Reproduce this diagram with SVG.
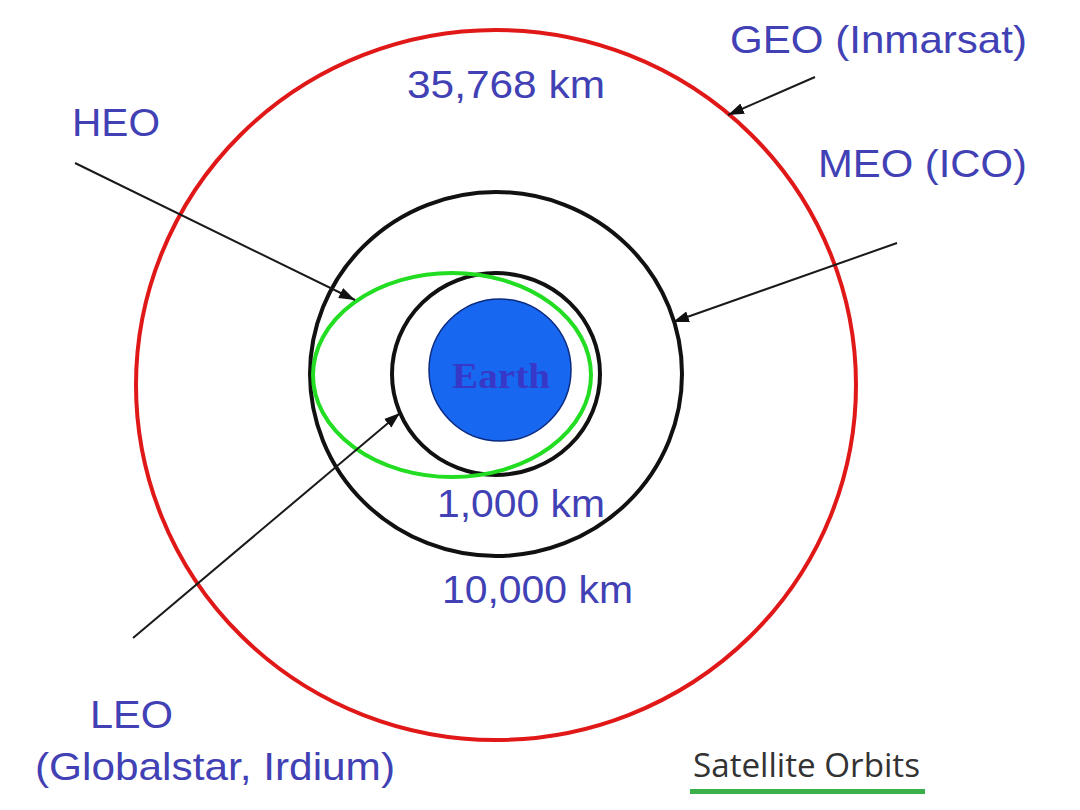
<svg xmlns="http://www.w3.org/2000/svg" width="1080" height="810" viewBox="0 0 1080 810">
<style>
.lbl{font-family:"Liberation Sans",Arial,sans-serif;font-size:39px;fill:#4141b5}
.orbit{fill:none;stroke-width:4}
.conn{stroke:#1a1a1a;stroke-width:2;fill:none}
</style>
<defs>
<marker id="ah" viewBox="0 0 10 10" refX="10" refY="5" markerWidth="8" markerHeight="8" markerUnits="userSpaceOnUse" orient="auto">
<path d="M0,0 L10,5 L0,10 z" fill="#111"/>
</marker>
<marker id="ahb" viewBox="0 0 10 10" refX="10" refY="5" markerWidth="16" markerHeight="16" markerUnits="userSpaceOnUse" orient="auto">
<path d="M0,1.5 L10,5 L0,8.5 z" fill="#111"/>
</marker>
</defs>
<rect width="1080" height="810" fill="#fff"/>
<g id="geo"><ellipse class="orbit" cx="496" cy="385" rx="360" ry="355" stroke="#e01818"/></g>
<g id="meo"><ellipse class="orbit" cx="496" cy="374" rx="186" ry="182" stroke="#111"/></g>
<g id="leo"><ellipse class="orbit" cx="496" cy="374" rx="104" ry="101" stroke="#111"/></g>
<g id="heo"><ellipse class="orbit" cx="452" cy="375" rx="139" ry="102" stroke="#22dd22"/></g>
<g id="earth">
<ellipse cx="500" cy="370" rx="71" ry="71" fill="#1767f0" stroke="#0a2a80" stroke-width="1.5"/>
<text x="501" y="388" text-anchor="middle" font-family="Liberation Serif,'Times New Roman',serif" font-weight="bold" font-size="35" fill="#3838c8" textLength="98" lengthAdjust="spacingAndGlyphs">Earth</text>
</g>
<g id="connectors">
<line class="conn" x1="815" y1="77" x2="728" y2="115" marker-end="url(#ahb)"/>
<line class="conn" x1="897" y1="243" x2="673" y2="322" marker-end="url(#ahb)"/>
<line class="conn" x1="75" y1="163" x2="355" y2="300" marker-end="url(#ahb)"/>
<line class="conn" x1="133" y1="638" x2="400" y2="413" marker-end="url(#ahb)"/>
</g>
<g id="labels">
<text class="lbl" x="730" y="53" textLength="297" lengthAdjust="spacingAndGlyphs">GEO (Inmarsat)</text>
<text class="lbl" x="407" y="98" textLength="198" lengthAdjust="spacingAndGlyphs">35,768 km</text>
<text class="lbl" x="72" y="136" textLength="88" lengthAdjust="spacingAndGlyphs">HEO</text>
<text class="lbl" x="818" y="177" textLength="209" lengthAdjust="spacingAndGlyphs">MEO (ICO)</text>
<text class="lbl" x="437" y="517" textLength="168" lengthAdjust="spacingAndGlyphs">1,000 km</text>
<text class="lbl" x="442" y="603" textLength="191" lengthAdjust="spacingAndGlyphs">10,000 km</text>
<text class="lbl" x="90" y="728" textLength="83" lengthAdjust="spacingAndGlyphs">LEO</text>
<text class="lbl" x="35" y="780" textLength="360" lengthAdjust="spacingAndGlyphs">(Globalstar, Irdium)</text>
</g>
<g id="caption">
<text x="693" y="777" font-family="'Open Sans','Noto Sans',sans-serif" font-size="33" fill="#333" textLength="227" lengthAdjust="spacingAndGlyphs">Satellite Orbits</text>
<rect x="690" y="789" width="235" height="5" fill="#3bb04a"/>
</g>
</svg>
